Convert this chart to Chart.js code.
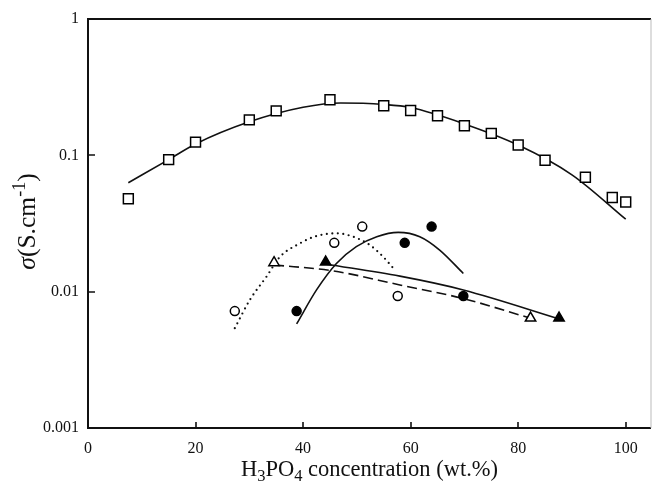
<!DOCTYPE html>
<html>
<head>
<meta charset="utf-8">
<script src="https://cdn.jsdelivr.net/npm/chart.js@4.4.1/dist/chart.umd.min.js"></script>
<style>
  html, body { margin: 0; padding: 0; background: #fff; }
  #wrap { width: 652px; height: 490px; }
</style>
</head>
<body>
<div id="wrap"><canvas id="conductivity" width="652" height="490"></canvas></div>
<script>
// axis ticks
const xTickValues = [0, 20, 40, 60, 80, 100]
const yTickValues = [0.001, 0.01, 0.1, 1]

// measured conductivity, open squares
const squareX = [7.5, 15, 20, 30, 35, 45, 55, 60, 65, 70, 75, 80, 85, 92.5, 97.5, 100]
const squareY = [0.048, 0.093, 0.125, 0.182, 0.212, 0.256, 0.231, 0.213, 0.195, 0.165, 0.145, 0.119, 0.092, 0.069, 0.049, 0.0455]
// fitted curve through the squares
const squareFitX = [7.5, 15, 20, 30, 40, 47, 55, 60, 70, 80, 90, 100]
const squareFitY = [0.063, 0.093, 0.121, 0.176, 0.225, 0.242, 0.236, 0.224, 0.170, 0.119, 0.072, 0.034]

// open circles + dotted fit
const openCircleX = [27.3, 45.8, 51.0, 57.6]
const openCircleY = [0.0072, 0.0228, 0.030, 0.0093]
const openCircleFitX = [27.3, 30.1, 33.2, 35.7, 39.4, 42.5, 46.2, 49.3, 52.4, 54.9, 57.2]
const openCircleFitY = [0.0054, 0.0087, 0.0129, 0.018, 0.0226, 0.0256, 0.0268, 0.0253, 0.022, 0.018, 0.0142]

// filled circles + solid fit
const filledCircleX = [38.8, 58.9, 63.9, 69.8]
const filledCircleY = [0.0072, 0.0228, 0.030, 0.0093]
const filledCircleFitX = [38.8, 42.5, 46.2, 49.9, 53.7, 57.7, 61.7, 65.4, 69.8]
const filledCircleFitY = [0.0058, 0.0103, 0.0161, 0.0214, 0.0253, 0.0272, 0.0253, 0.0202, 0.0136]

// open triangles + dashed fit
const openTriX = [34.6, 82.3]
const openTriY = [0.0163, 0.0064]
const openTriFitX = [34.6, 45.6, 58, 69.8, 82.5]
const openTriFitY = [0.0157, 0.0142, 0.0112, 0.0089, 0.00635]

// filled triangles + solid fit
const filledTriX = [44.2, 87.6]
const filledTriY = [0.0165, 0.0064]
const filledTriFitX = [44.4, 58, 69.8, 88.3]
const filledTriFitY = [0.0159, 0.013, 0.0103, 0.0062]

const serif = "'Liberation Serif', 'Times New Roman', serif"

function toPoints(xs, ys) {
  return xs.map((x, i) => ({ x: x, y: ys[i] }))
}

function markers(xs, ys, style, radius, fill) {
  return {
    data: toPoints(xs, ys),
    showLine: false,
    pointStyle: style,
    pointRadius: radius,
    pointBorderWidth: 1.5,
    pointBorderColor: '#000',
    pointBackgroundColor: fill,
    order: 0
  }
}

function fitLine(xs, ys, dash) {
  const dotted = dash && dash[0] === 0
  return {
    data: toPoints(xs, ys),
    showLine: true,
    pointRadius: 0,
    borderColor: '#111',
    borderWidth: dotted ? 2.2 : 1.6,
    borderDash: dash || [],
    borderCapStyle: dotted ? 'round' : 'butt',
    cubicInterpolationMode: 'monotone',
    fill: false,
    order: 1
  }
}

// draws a run of [text, font, baselineShift] pieces starting at x
function drawRuns(ctx, parts, x, y) {
  parts.forEach(p => {
    ctx.font = p[1]
    ctx.fillText(p[0], x, y + p[2])
    x += ctx.measureText(p[0]).width
  })
}

function runsWidth(ctx, parts) {
  let w = 0
  parts.forEach(p => { ctx.font = p[1]; w += ctx.measureText(p[0]).width })
  return w
}

// frame, inward tick marks and the two axis titles (they need sub/superscripts)
const framePlugin = {
  id: 'framePlugin',
  afterDraw(chart) {
    const ctx = chart.ctx
    const a = chart.chartArea
    const xs = chart.scales.x
    const ys = chart.scales.y
    ctx.save()
    ctx.strokeStyle = '#111'
    ctx.lineWidth = 2
    ctx.beginPath()
    ctx.moveTo(a.right, a.top)
    ctx.lineTo(a.left, a.top)
    ctx.lineTo(a.left, a.bottom)
    ctx.lineTo(a.right, a.bottom)
    ctx.stroke()
    ctx.strokeStyle = '#bbb'
    ctx.lineWidth = 1
    ctx.beginPath()
    ctx.moveTo(a.right, a.top)
    ctx.lineTo(a.right, a.bottom)
    ctx.stroke()

    ctx.strokeStyle = '#111'
    ctx.lineWidth = 1.6
    ctx.beginPath()
    xTickValues.forEach(v => {
      const px = Math.round(xs.getPixelForValue(v))
      ctx.moveTo(px, a.bottom)
      ctx.lineTo(px, a.bottom - 6)
    })
    yTickValues.forEach(v => {
      const py = Math.round(ys.getPixelForValue(v))
      ctx.moveTo(a.left, py)
      ctx.lineTo(a.left + 7, py)
    })
    ctx.stroke()

    ctx.fillStyle = '#111'
    ctx.textBaseline = 'alphabetic'
    ctx.textAlign = 'left'

    // x title: H3PO4 concentration (wt.%)
    const big = '22.5px ' + serif
    const small = '16.5px ' + serif
    const xparts = [['H', big, 0], ['3', small, 4.5], ['PO', big, 0], ['4', small, 4.5], [' concentration (wt.%)', big, 0]]
    const xw = runsWidth(ctx, xparts)
    drawRuns(ctx, xparts, (a.left + a.right) / 2 - xw / 2, 476)

    // y title: sigma(S.cm^-1)
    ctx.translate(35, (a.top + a.bottom) / 2 - 2)
    ctx.rotate(-Math.PI / 2)
    const yparts = [['σ', 'italic 25.5px ' + serif, 0], ['(S.cm', '25.5px ' + serif, 0], ['-1', '18px ' + serif, -10], [')', '25.5px ' + serif, 0]]
    const yw = runsWidth(ctx, yparts)
    drawRuns(ctx, yparts, -yw / 2, 0)
    ctx.restore()
  }
}

const ctx = document.getElementById('conductivity').getContext('2d')

const myChart = new Chart(ctx, {
  type: 'scatter',
  data: {
    datasets: [
      markers(squareX, squareY, 'rect', 7, '#fff'),
      markers(openCircleX, openCircleY, 'circle', 4.5, '#fff'),
      markers(filledCircleX, filledCircleY, 'circle', 4.5, '#000'),
      markers(openTriX, openTriY, 'triangle', 6, '#fff'),
      markers(filledTriX, filledTriY, 'triangle', 6, '#000'),
      fitLine(squareFitX, squareFitY),
      fitLine(openCircleFitX, openCircleFitY, [0, 5.5]),
      fitLine(filledCircleFitX, filledCircleFitY),
      fitLine(openTriFitX, openTriFitY, [10, 5]),
      fitLine(filledTriFitX, filledTriFitY)
    ]
  },
  options: {
    responsive: false,
    animation: false,
    layout: {
      autoPadding: false,
      padding: { top: 19, right: 1, left: 0, bottom: 0 }
    },
    plugins: {
      legend: { display: false },
      tooltip: { enabled: false }
    },
    scales: {
      x: {
        type: 'linear',
        min: 0,
        max: 104.7,
        afterBuildTicks: scale => { scale.ticks = xTickValues.map(v => ({ value: v })) },
        afterFit: scale => {
          scale.height = 62
          scale.paddingLeft = 0
          scale.paddingRight = 0
        },
        grid: { display: false, drawTicks: false },
        border: { display: false },
        ticks: {
          color: '#111',
          padding: 11,
          maxRotation: 0,
          font: { family: serif, size: 16 }
        }
      },
      y: {
        type: 'logarithmic',
        min: 0.001,
        max: 1,
        afterBuildTicks: scale => { scale.ticks = yTickValues.map(v => ({ value: v })) },
        afterFit: scale => {
          scale.width = 88
          scale.paddingTop = 0
          scale.paddingBottom = 0
        },
        grid: { display: false, drawTicks: false },
        border: { display: false },
        ticks: {
          color: '#111',
          padding: 9,
          callback: value => String(value),
          font: { family: serif, size: 16 }
        }
      }
    }
  },
  plugins: [framePlugin]
});
</script>
</body>
</html>
